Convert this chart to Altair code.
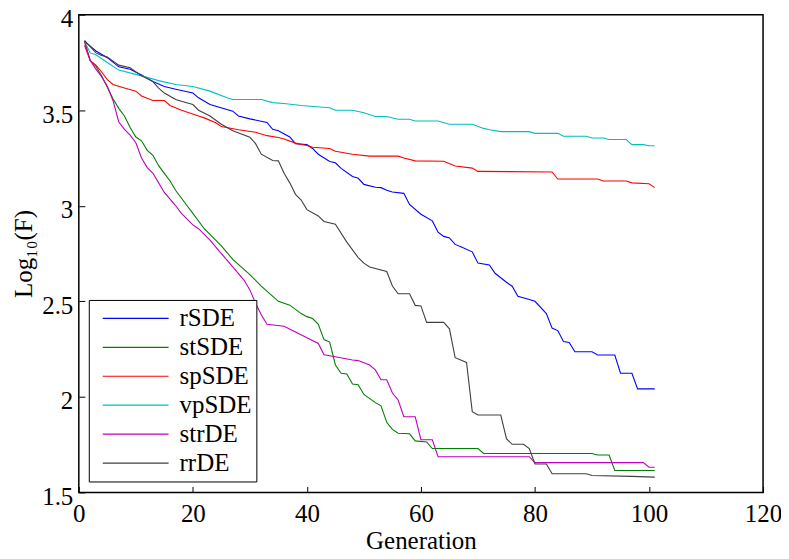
import altair as alt
import pandas as pd

series_names = ["rSDE", "stSDE", "spSDE", "vpSDE", "strDE", "rrDE"]
series_colors = ["#0000FF", "#008000", "#FF0000", "#00BFBF", "#BF00BF", "#404040"]

rsde_gen = [1, 3, 5, 7, 9, 11, 13, 15, 17, 20, 21, 23, 27, 28, 30, 33, 34, 35, 37, 38, 40, 41, 42, 44, 45, 46, 48, 49, 50, 52, 53, 54, 55, 57, 58, 60, 62, 63, 64, 65, 66, 67, 69, 70, 72, 73, 75, 76, 77, 79, 80, 82, 83, 84, 85, 86, 87, 90, 91, 94, 95, 97, 98, 101]
rsde_val = [3.86, 3.81, 3.775, 3.727, 3.715, 3.685, 3.65, 3.624, 3.61, 3.59, 3.565, 3.53, 3.495, 3.47, 3.455, 3.436, 3.40, 3.393, 3.36, 3.325, 3.32, 3.30, 3.27, 3.232, 3.225, 3.196, 3.153, 3.144, 3.112, 3.097, 3.095, 3.081, 3.072, 3.065, 3.007, 2.956, 2.921, 2.862, 2.84, 2.832, 2.798, 2.786, 2.759, 2.70, 2.69, 2.647, 2.60, 2.579, 2.527, 2.51, 2.50, 2.436, 2.36, 2.347, 2.29, 2.285, 2.236, 2.236, 2.219, 2.219, 2.124, 2.124, 2.042, 2.042]

stsde_gen = [1, 2, 3, 4, 5, 6, 7, 8, 9, 10, 11, 12, 13, 14, 15, 16, 17, 19, 20, 22, 25, 27, 30, 32, 35, 37, 39, 40, 41, 42, 43, 44, 45, 46, 47, 48, 49, 50, 52, 53, 54, 55, 56, 58, 59, 61, 62, 70, 71, 90, 91, 93, 94, 101]
stsde_val = [3.86, 3.76, 3.73, 3.68, 3.62, 3.56, 3.51, 3.47, 3.41, 3.36, 3.34, 3.29, 3.264, 3.21, 3.17, 3.13, 3.08, 3.0, 2.96, 2.88, 2.79, 2.72, 2.64, 2.58, 2.50, 2.48, 2.436, 2.42, 2.41, 2.38, 2.30, 2.287, 2.167, 2.124, 2.12, 2.067, 2.064, 2.013, 1.97, 1.953, 1.867, 1.83, 1.81, 1.807, 1.77, 1.764, 1.73, 1.73, 1.704, 1.704, 1.696, 1.696, 1.615, 1.615]

spsde_gen = [1, 2, 3, 4, 5, 6, 8, 10, 11, 13, 15, 16, 18, 21, 22, 24, 25, 28, 31, 33, 35, 36, 38, 40, 41, 44, 45, 48, 51, 56, 57, 59, 64, 66, 69, 70, 83, 84, 91, 92, 96, 97, 100, 101]
spsde_val = [3.84, 3.76, 3.736, 3.70, 3.66, 3.635, 3.616, 3.60, 3.575, 3.551, 3.551, 3.525, 3.50, 3.47, 3.46, 3.434, 3.415, 3.398, 3.385, 3.367, 3.357, 3.35, 3.328, 3.316, 3.306, 3.30, 3.285, 3.27, 3.26, 3.26, 3.25, 3.235, 3.233, 3.208, 3.197, 3.18, 3.177, 3.14, 3.14, 3.13, 3.13, 3.12, 3.115, 3.095]

vpsde_gen = [1, 2, 3, 5, 7, 11, 14, 17, 20, 23, 26, 27, 32, 34, 36, 39, 44, 45, 48, 50, 52, 54, 56, 58, 59, 63, 65, 69, 71, 72, 74, 79, 80, 84, 85, 89, 90, 92, 93, 96, 97, 99, 100, 101]
vpsde_val = [3.86, 3.80, 3.79, 3.75, 3.71, 3.68, 3.655, 3.635, 3.624, 3.60, 3.565, 3.556, 3.556, 3.54, 3.535, 3.525, 3.513, 3.50, 3.50, 3.487, 3.467, 3.467, 3.453, 3.453, 3.444, 3.444, 3.427, 3.427, 3.405, 3.398, 3.388, 3.388, 3.379, 3.379, 3.364, 3.364, 3.355, 3.355, 3.347, 3.347, 3.32, 3.32, 3.314, 3.314]

strde_gen = [1, 2, 3, 4, 5, 6, 7, 8, 9, 10, 11, 12, 13, 14, 15, 17, 18, 20, 21, 23, 25, 27, 29, 30, 31, 32, 33, 36, 38, 40, 42, 43, 45, 48, 49, 51, 52, 53, 54, 55, 56, 57, 59, 60, 62, 63, 79, 80, 99, 100, 101]
strde_val = [3.86, 3.76, 3.715, 3.676, 3.625, 3.55, 3.44, 3.40, 3.37, 3.33, 3.25, 3.20, 3.17, 3.12, 3.07, 3.0, 2.96, 2.90, 2.88, 2.82, 2.75, 2.68, 2.61, 2.56, 2.49, 2.43, 2.38, 2.37, 2.34, 2.31, 2.28, 2.22, 2.21, 2.193, 2.19, 2.167, 2.141, 2.09, 2.09, 2.02, 1.984, 1.896, 1.896, 1.776, 1.776, 1.687, 1.687, 1.656, 1.656, 1.632, 1.632]

rrde_gen = [1, 3, 4, 5, 7, 9, 11, 13, 14, 15, 17, 18, 20, 21, 23, 25, 27, 30, 31, 32, 34, 35, 36, 37, 38, 39, 40, 42, 43, 45, 47, 49, 50, 51, 54, 55, 56, 58, 59, 60, 61, 64, 65, 66, 68, 69, 70, 74, 75, 76, 78, 79, 80, 82, 83, 89, 90, 97, 101]
rrde_val = [3.865, 3.80, 3.787, 3.779, 3.736, 3.722, 3.68, 3.65, 3.616, 3.59, 3.556, 3.547, 3.53, 3.50, 3.47, 3.427, 3.393, 3.359, 3.325, 3.27, 3.237, 3.235, 3.17, 3.12, 3.06, 3.03, 2.98, 2.947, 2.918, 2.904, 2.81, 2.729, 2.70, 2.68, 2.656, 2.58, 2.54, 2.54, 2.479, 2.476, 2.39, 2.39, 2.356, 2.205, 2.18, 1.923, 1.905, 1.905, 1.781, 1.752, 1.752, 1.73, 1.649, 1.649, 1.598, 1.598, 1.589, 1.584, 1.58]

x_ticks = [0, 20, 40, 60, 80, 100, 120]
y_ticks = [1.5, 2, 2.5, 3, 3.5, 4]

gens = [rsde_gen, stsde_gen, spsde_gen, vpsde_gen, strde_gen, rrde_gen]
vals = [rsde_val, stsde_val, spsde_val, vpsde_val, strde_val, rrde_val]

rows = []
for name, g_list, v_list in zip(series_names, gens, vals):
    for g, v in zip(g_list, v_list):
        rows.append({"series": name, "gen": g, "val": v})
df = pd.DataFrame(rows)

FONT = "Liberation Serif, Times New Roman, serif"
FS = 25

chart = alt.Chart(df).mark_line(strokeWidth=1.1).encode(
    x=alt.X("gen:Q", scale=alt.Scale(domain=[0, 120], nice=False),
            axis=alt.Axis(values=x_ticks, title="Generation", domain=False, grid=False,
                          tickSize=6, tickColor="black", offset=-6, labelPadding=9,
                          labelFont=FONT, labelFontSize=FS, labelColor="black",
                          titleFont=FONT, titleFontSize=FS, titleFontWeight="normal",
                          titleColor="black", titleBaseline="alphabetic", titleY=62,
                          labelFlush=False)),
    y=alt.Y("val:Q", scale=alt.Scale(domain=[1.5, 4], nice=False, zero=False),
            axis=alt.Axis(values=y_ticks, title="Log₁₀(F)", labelExpr="'' + datum.value",
                          domain=False, grid=False, tickSize=6, tickColor="black", offset=-6,
                          labelPadding=6, labelOffset=4, labelFont=FONT, labelFontSize=FS,
                          labelColor="black",
                          titleFont=FONT, titleFontSize=FS, titleFontWeight="normal",
                          titleColor="black", titleBaseline="alphabetic", titleAngle=270,
                          titleX=-53, labelFlush=False)),
    color=alt.Color("series:N", sort=series_names,
                    scale=alt.Scale(domain=series_names, range=series_colors),
                    legend=alt.Legend(orient="none", legendX=10, legendY=286, title=None,
                                      symbolType="stroke", symbolSize=4356, symbolStrokeWidth=1.2,
                                      clipHeight=29, rowPadding=0, padding=4,
                                      symbolOffset=9, labelOffset=10,
                                      labelFont=FONT, labelFontSize=FS, labelColor="black",
                                      strokeColor="black", fillColor="white")),
    order=alt.Order("gen:Q"),
).properties(
    width=686, height=479,
    autosize=alt.AutoSizeParams(type="none"),
    padding={"left": 71, "top": 6, "right": 18, "bottom": 62},
).configure_view(stroke="black", strokeWidth=1.5)

chart.save("out.html", embed_options={"renderer": "svg", "actions": False})
